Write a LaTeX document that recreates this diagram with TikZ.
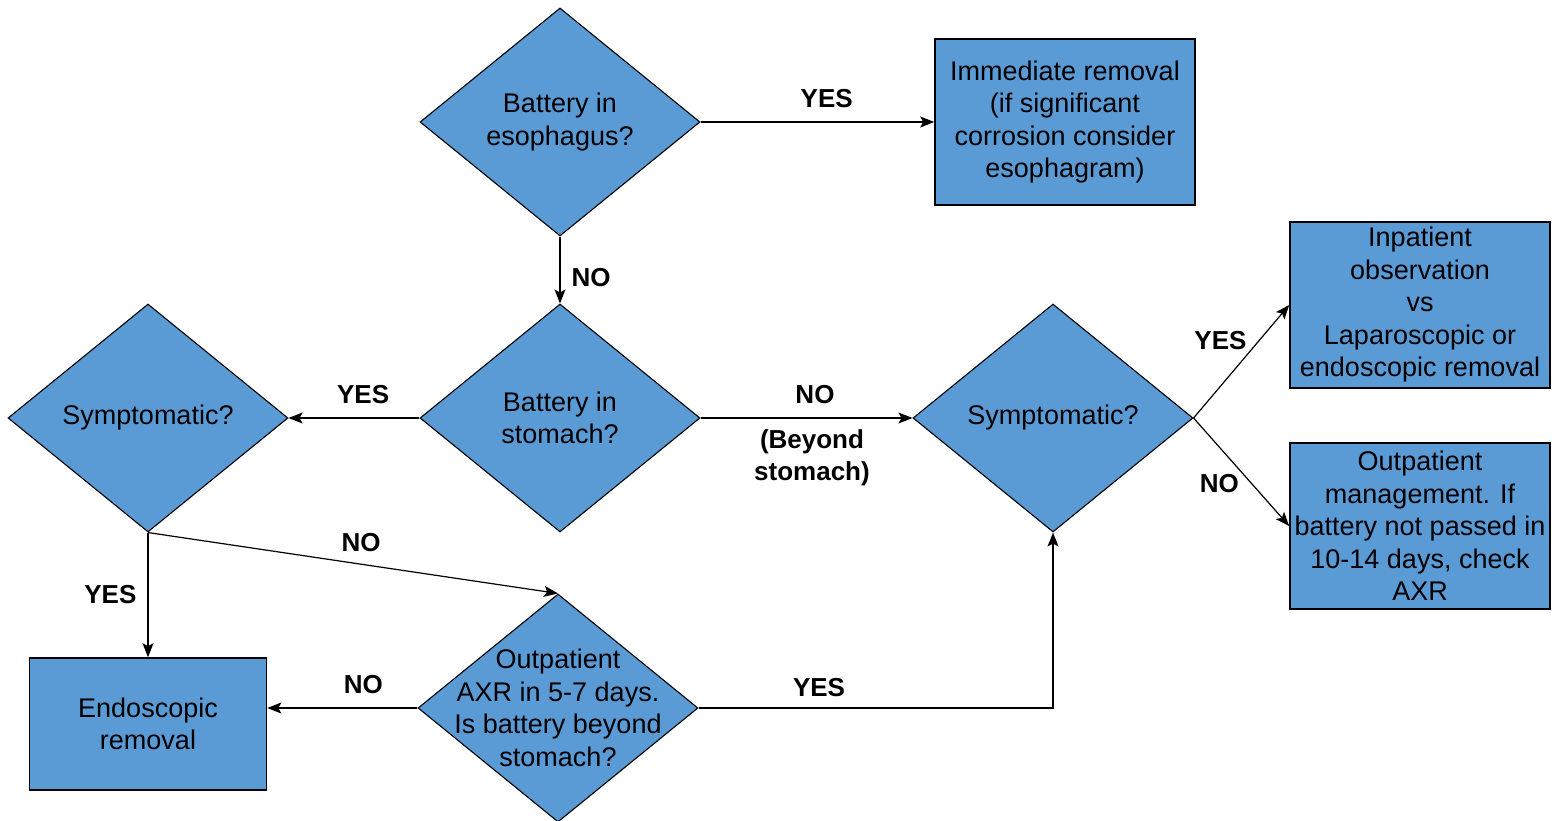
\documentclass[tikz,border=0pt]{standalone}
\usepackage{fontspec}
\setmainfont{Liberation Sans}
\usetikzlibrary{arrows.meta,shapes.geometric}
\definecolor{flowblue}{RGB}{91,155,213}

\tikzset{
  decision/.style={diamond,draw,fill=flowblue,line width=1.1pt,inner sep=0pt,minimum width=280,minimum height=228},
  qtext/.style={align=center,inner sep=0pt,font=\fontsize{27}{32.5}\selectfont},
  action/.style={rectangle,draw,fill=flowblue,line width=1.6pt,align=center,inner sep=0pt,minimum width=260,minimum height=166,font=\fontsize{27}{32.5}\selectfont},
  answer/.style={font=\fontsize{26}{30}\selectfont\bfseries,inner sep=2pt},
  flow/.style={line width=1.2pt,-{Stealth[length=14pt,width=11pt,inset=3pt]}}
}

\begin{document}
\begin{tikzpicture}[x=1pt,y=-1pt]
\path[use as bounding box] (0,0) rectangle (1554,821);
% decisions
\node[decision] (esoph) at (560,122) {};
\node[qtext] (esophT) at (esoph) {Battery in\\esophagus?};
\node[decision] (stom) at (560,418) {};
\node[qtext] (stomT) at (stom) {Battery in\\stomach?};
\node[decision] (sympL) at (148,418) {};
\node[qtext] (sympLT) at (sympL) {Symptomatic?};
\node[decision] (sympR) at (1053,418) {};
\node[qtext] (sympRT) at (sympR) {Symptomatic?};
\node[decision] (axr) at (558,708) {};
\node[qtext] (axrT) at (axr) {Outpatient\\AXR in 5-7 days.\\Is battery beyond\\stomach?};
% actions
\node[action] (immed) at (1065,122) {Immediate removal\\(if significant\\corrosion consider\\esophagram)};
\node[action] (inpat) at (1420,305) {Inpatient\\observation\\vs\\Laparoscopic or\\endoscopic removal};
\node[action] (outpat) at (1420,526) {Outpatient\\management. If\\battery not passed in\\10-14 days, check\\AXR};
\node[action,minimum width=237,minimum height=132] (endo) at (148,724) {Endoscopic\\removal};
% connectors
\draw[flow] (esoph.east) -- node[answer,above=12pt,pos=.54] (l1) {YES} (immed.west);
\draw[flow] (esoph.south) -- node[answer,right=9pt,pos=.62] (l2) {NO} (stom.north);
\draw[flow] (stom.west) -- node[answer,above=12pt,pos=.43] (l3) {YES} (sympL.east);
\draw[flow] (stom.east) -- node[answer,above=12pt,pos=.54] (l4) {NO} (sympR.west);
\node[answer,align=center,font=\fontsize{26}{32.5}\selectfont\bfseries] (l4b) at (812,458) {(Beyond\\stomach)};
\draw[flow] (sympR.east) -- node[answer,above left,pos=.58] (l5) {YES} (inpat.west);
\draw[flow] (sympR.east) -- node[answer,below left,pos=.5] (l6) {NO} (outpat.west);
\draw[flow] (sympL.south) -- node[answer,left=9pt,pos=.5] (l7) {YES} (endo.north);
\draw[flow] (sympL.south) -- node[answer,above=10pt,pos=.52] (l8) {NO} (axr.north);
\draw[flow] (axr.west) -- node[answer,above=12pt,pos=.36] (l9) {NO} (axr.west -| endo.east);
\draw[flow] (axr.east) -| node[answer,above=9pt,pos=.17] (l10) {YES} (sympR.south);
\end{tikzpicture}
\end{document}
